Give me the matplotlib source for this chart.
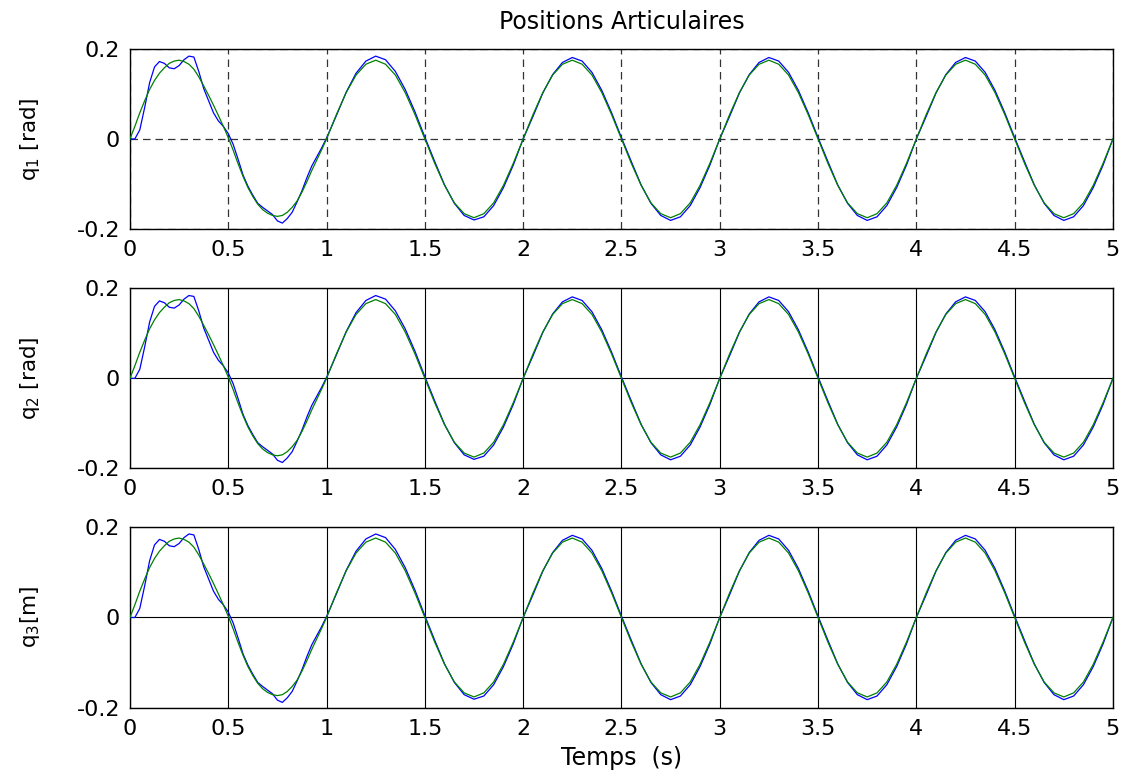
import numpy as np
import matplotlib
matplotlib.use("Agg")
import matplotlib.pyplot as plt

plt.rcParams["font.family"] = ["DejaVu Sans"]

# time samples: 0.025 s over the first second, 0.05 s afterwards
t_first = np.linspace(0.0, 1.0, 41)
t_rest = np.linspace(1.05, 5.0, 80)

# blue curve (measured), first second
blue_first = [0.000, 0.000, 0.020, 0.070, 0.125, 0.160, 0.172, 0.168, 0.158, 0.156,
              0.163, 0.176, 0.184, 0.182, 0.150, 0.112, 0.085, 0.058, 0.040, 0.028,
              0.012, -0.012, -0.045, -0.080, -0.105, -0.125, -0.143, -0.152, -0.160, -0.168,
              -0.182, -0.187, -0.177, -0.163, -0.140, -0.115, -0.086, -0.060, -0.040, -0.020,
              0.002]
# blue curve, 1.05 s .. 5 s
blue_rest = [0.052, 0.104, 0.146, 0.173, 0.184, 0.176, 0.150, 0.110, 0.060, 0.004,
             -0.050, -0.102, -0.143, -0.170, -0.180, -0.173, -0.148, -0.108, -0.058, 0.000,
             0.050, 0.102, 0.143, 0.170, 0.181, 0.173, 0.148, 0.108, 0.058, 0.003,
             -0.050, -0.102, -0.143, -0.170, -0.181, -0.173, -0.148, -0.108, -0.058, 0.000,
             0.050, 0.102, 0.143, 0.170, 0.181, 0.173, 0.148, 0.108, 0.058, 0.003,
             -0.050, -0.102, -0.143, -0.170, -0.181, -0.173, -0.148, -0.108, -0.058, 0.000,
             0.050, 0.102, 0.143, 0.170, 0.181, 0.173, 0.148, 0.108, 0.058, 0.003,
             -0.050, -0.102, -0.143, -0.170, -0.181, -0.173, -0.148, -0.108, -0.058, 0.000]

# green curve (desired), first second
green_first = [0.000, 0.028, 0.058, 0.085, 0.110, 0.130, 0.146, 0.158, 0.168, 0.173,
               0.175, 0.172, 0.166, 0.155, 0.138, 0.118, 0.097, 0.075, 0.052, 0.028,
               0.003, -0.025, -0.055, -0.083, -0.108, -0.128, -0.145, -0.157, -0.165, -0.170,
               -0.172, -0.170, -0.163, -0.152, -0.138, -0.118, -0.095, -0.070, -0.047, -0.024,
               0.000]
# green curve, 1.05 s .. 5 s
green_rest = [0.054, 0.103, 0.142, 0.166, 0.175, 0.166, 0.142, 0.103, 0.054, 0.000,
              -0.054, -0.103, -0.142, -0.166, -0.175, -0.166, -0.142, -0.103, -0.054, 0.000,
              0.054, 0.103, 0.142, 0.166, 0.175, 0.166, 0.142, 0.103, 0.054, 0.000,
              -0.054, -0.103, -0.142, -0.166, -0.175, -0.166, -0.142, -0.103, -0.054, 0.000,
              0.054, 0.103, 0.142, 0.166, 0.175, 0.166, 0.142, 0.103, 0.054, 0.000,
              -0.054, -0.103, -0.142, -0.166, -0.175, -0.166, -0.142, -0.103, -0.054, 0.000,
              0.054, 0.103, 0.142, 0.166, 0.175, 0.166, 0.142, 0.103, 0.054, 0.000,
              -0.054, -0.103, -0.142, -0.166, -0.175, -0.166, -0.142, -0.103, -0.054, 0.000]

t = np.concatenate([t_first, t_rest])
blue = np.array(blue_first + blue_rest)
green = np.array(green_first + green_rest)

ylabels = ["q$_1$ [rad]", "q$_2$ [rad]", "q$_3$[m]"]
xticks = [0, 0.5, 1, 1.5, 2, 2.5, 3, 3.5, 4, 4.5, 5]
xticklabels = ["0", "0.5", "1", "1.5", "2", "2.5", "3", "3.5", "4", "4.5", "5"]
yticks = [-0.2, 0, 0.2]
yticklabels = ["-0.2", "0", "0.2"]

fig = plt.figure(figsize=(11.3, 7.78), dpi=100)
boxes = [(0.115, 0.7057, 0.8699, 0.2314),
         (0.115, 0.3980, 0.8699, 0.2314),
         (0.115, 0.0896, 0.8699, 0.2334)]

for i, (box, lab) in enumerate(zip(boxes, ylabels)):
    ax = fig.add_axes(box)
    ax.plot(t, blue, color=(0, 0, 1), lw=0.9, zorder=3)
    ax.plot(t, green, color=(0, 0.5, 0), lw=0.9, zorder=4)
    ax.set_xlim(0, 5)
    ax.set_ylim(-0.2, 0.2)
    ax.set_xticks(xticks)
    ax.set_xticklabels(xticklabels)
    ax.set_yticks(yticks)
    ax.set_yticklabels(yticklabels)
    ax.tick_params(direction="in", length=0, labelsize=16)
    ax.tick_params(axis="x", pad=8)
    ax.tick_params(axis="y", pad=7)
    ax.set_ylabel(lab, fontsize=15.5, labelpad=25)
    if i == 0:
        ax.grid(True, color="#333333", linestyle=(0, (6, 4)), lw=0.9)
        ax.set_title("Positions Articulaires", fontsize=17, pad=14)
    else:
        ax.grid(True, color="black", linestyle="-", lw=0.8)
    ax.set_axisbelow(True)
    for s in ax.spines.values():
        s.set_linewidth(1.0)

ax.set_xlabel("Temps  (s)", fontsize=17, labelpad=5)

fig.savefig("out.png", dpi=100)
